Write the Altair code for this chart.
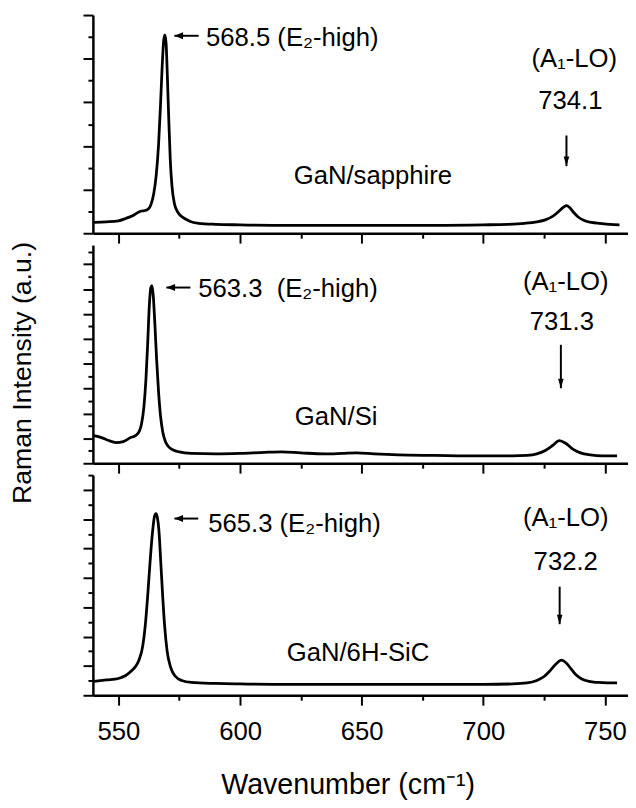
import altair as alt
import pandas as pd

# ---------------- data ----------------
# Panel 1: GaN/sapphire
x_sap = [540, 545, 550, 553, 556, 558, 559.5, 561, 562.5, 563.5, 564.5, 565.5, 566.5, 567.3, 568, 568.6,
         569.1, 569.6, 570.1, 570.7, 571.3, 572, 573, 574.5, 576.5, 579, 583, 590, 600, 620, 640, 660, 680,
         700, 710, 717, 722, 725.5, 728.5, 731, 733, 734.3, 735.5, 737, 739, 741.5, 744.5, 748, 752, 756]
y_sap = [11, 11.5, 12.5, 15, 18, 21, 22.5, 23, 25, 30, 40, 58, 90, 130, 170, 195,
         201, 192, 160, 115, 75, 48, 30, 21, 16, 12.5, 10, 9, 8.5, 8, 8, 8, 8,
         8.5, 9, 10, 11.5, 13.5, 17, 22, 26.5, 28, 26, 21.5, 16.5, 13, 11, 10, 9, 8.5]

# Panel 2: GaN/Si
x_si = [540, 543, 546, 549, 552, 555, 557, 558.5, 559.5, 560.5, 561.3, 562, 562.7, 563.3, 563.8, 564.3,
        565, 565.7, 566.5, 567.3, 568.2, 569.3, 570.5, 572.5, 575, 580, 590, 600, 610, 617, 625, 635, 642,
        648, 655, 665, 680, 700, 712, 718, 722, 725.5, 728.5, 731.3, 734, 737, 740, 744, 749, 755]
y_si = [28, 26, 23, 21, 22, 26, 28, 32, 40, 58, 85, 120, 160, 178, 180, 170,
        140, 105, 72, 48, 32, 22, 17, 13.5, 11.5, 10, 9.5, 10, 11, 11.5, 10.5, 9.5, 10,
        10.5, 9.5, 8.5, 8, 7.5, 7.5, 8, 9.5, 13, 18, 23, 20, 14, 10.5, 8.5, 7.5, 7.5]

# Panel 3: GaN/6H-SiC
x_sic = [540, 545, 550, 553, 555.5, 557, 558.5, 560, 561, 562, 563, 564, 564.8, 565.4, 566, 566.7,
         567.4, 568.2, 569, 570, 571.5, 573.5, 576, 580, 590, 600, 620, 650, 680, 700, 712, 718, 722,
         725, 727.5, 730, 732.2, 734, 736, 738, 740.5, 743.5, 747, 751, 755]
y_sic = [14, 15.5, 17, 20, 25, 29, 36, 50, 70, 100, 135, 165, 181, 184, 180, 165,
         135, 100, 70, 45, 28, 19, 15, 13, 12, 11.5, 11, 11, 11, 11, 11.5, 12.5, 15,
         19, 25, 32, 35.5, 33, 27, 21, 16.5, 14, 13, 12.5, 12.5]

# annotations
e2_labels = ["568.5 (E\u2082-high)", "563.3\u00a0 (E\u2082-high)", "565.3 (E\u2082-high)"]
e2_x = [586, 582.8, 586.9]
e2_y = [198, 176, 173]
a1_labels = ["(A\u2081-LO)", "(A\u2081-LO)", "(A\u2081-LO)"]
a1_x = [737.4, 733.9, 733.9]
a1_y = [176, 184, 179]
a1_values = ["734.1", "731.3", "732.2"]
a1v_x = [735.8, 732.3, 733.9]
a1v_y = [134, 143, 135]
sample_names = ["GaN/sapphire", "GaN/Si", "GaN/6H-SiC"]
sample_x = [654.6, 639.5, 648.5]
sample_y = [58, 47, 43]
larrow_tip = [573, 569.7, 573]
larrow_tail = [583, 579.6, 582.8]
larrow_y = [200, 178, 179]
darrow_x = [734.2, 731.9, 731.4]
darrow_top = [99, 120, 110]
darrow_tip = [68, 76, 72]

panel_heights = [221, 221, 223]
tick_steps = [22.1, 12.6, 14.85]

# ---------------- styling ----------------
FONT = "Liberation Sans"
XDOM = [539.5, 759.5]
W = 542
x_ticks = [550, 575, 600, 625, 650, 675, 700, 725, 750]

LEFT_HEAD = "M0,0 L2.2,-0.9 L2.2,0.9 Z"
DOWN_HEAD = "M0,0 L-0.7,-2.4 L0.7,-2.4 Z"


def make_panel(i, xs, ys, show_labels):
    H = panel_heights[i]
    step = tick_steps[i]
    n = int(H / step + 1e-6)
    yvals = [round(k * step, 3) for k in range(n + 1)]

    xaxis_kwargs = dict(
        values=x_ticks,
        tickSize={"condition": {"test": "datum.value % 50 === 0", "value": 10}, "value": 5},
        labels=show_labels,
        grid=False,
        domainColor="black", domainWidth=2.5, tickColor="black", tickWidth=2,
    )
    if show_labels:
        xaxis_kwargs.update(
            labelExpr="datum.value % 50 === 0 ? datum.label : ''",
            labelPadding=14,
            labelFont=FONT, labelFontSize=26, labelColor="black",
            title="Wavenumber (cm\u207b\u00b9)",
            titleFontSize=29,
            titleFont=FONT,
            titleColor="black",
            titleFontWeight="normal",
            titlePadding=27,
            titleX=258,
            titleAlign="center",
        )
    else:
        xaxis_kwargs.update(title=None)
    xaxis = alt.Axis(**xaxis_kwargs)

    yaxis_kwargs = dict(
        values=yvals,
        tickSize={"condition": {"test": "round(datum.value / %s) %% 2 === 0" % step, "value": 10}, "value": 5},
        labels=False,
        grid=False,
        domainColor="black", domainWidth=2.5, tickColor="black", tickWidth=2,
    )
    if i == 1:
        yaxis_kwargs.update(
            title="Raman Intensity (a.u.)",
            titleFontSize=27,
            titleFont=FONT,
            titleColor="black",
            titleFontWeight="normal",
            titleX=-71,
            titleY=129,
            titleAlign="center",
            titleBaseline="middle",
        )
    else:
        yaxis_kwargs.update(title=None)
    yaxis = alt.Axis(**yaxis_kwargs)

    xs_ = alt.Scale(domain=XDOM, nice=False, zero=False)
    ys_ = alt.Scale(domain=[0, H], nice=False, zero=False)

    def X(field="x"):
        return alt.X(f"{field}:Q", scale=xs_, axis=xaxis)

    def Y(field="y"):
        return alt.Y(f"{field}:Q", scale=ys_, axis=yaxis)

    curve = pd.DataFrame({"x": xs, "y": ys})
    line = alt.Chart(curve).mark_line(color="black", strokeWidth=2.8, interpolate="monotone").encode(
        x=X(), y=Y())

    left_txt = pd.DataFrame({"x": [e2_x[i]], "y": [e2_y[i]], "label": [e2_labels[i]]})
    center_txt = pd.DataFrame({
        "x": [a1_x[i], a1v_x[i], sample_x[i]],
        "y": [a1_y[i], a1v_y[i], sample_y[i]],
        "label": [a1_labels[i], a1_values[i], sample_names[i]],
    })
    t1 = alt.Chart(left_txt).mark_text(font=FONT, fontSize=26, align="left", baseline="middle",
                                       color="black").encode(x=X(), y=Y(), text="label:N")
    t2 = alt.Chart(center_txt).mark_text(font=FONT, fontSize=26, align="center", baseline="middle",
                                         color="black").encode(x=X(), y=Y(), text="label:N")

    la = pd.DataFrame({"x": [larrow_tip[i]], "x2": [larrow_tail[i]], "y": [larrow_y[i]]})
    la_rule = alt.Chart(la).mark_rule(color="black", strokeWidth=2).encode(x=X(), x2="x2:Q", y=Y())
    la_head = alt.Chart(la).mark_point(shape=LEFT_HEAD, filled=True, size=64, color="black",
                                       opacity=1).encode(x=X(), y=Y())

    da = pd.DataFrame({"x": [darrow_x[i]], "y": [darrow_tip[i]], "y2": [darrow_top[i]]})
    da_rule = alt.Chart(da).mark_rule(color="black", strokeWidth=2).encode(x=X(), y=Y(), y2="y2:Q")
    da_head = alt.Chart(da).mark_point(shape=DOWN_HEAD, filled=True, size=64, color="black",
                                       opacity=1).encode(x=X(), y=Y())

    return alt.layer(line, t1, t2, la_rule, la_head, da_rule, da_head).properties(width=W, height=H)


p1 = make_panel(0, x_sap, y_sap, False)
p2 = make_panel(1, x_si, y_si, False)
p3 = make_panel(2, x_sic, y_sic, True)

chart = alt.vconcat(p1, p2, p3, spacing=12, bounds="flush").properties(
    padding={"top": 1, "left": 0, "right": 0, "bottom": 0},
    background="white",
).configure_view(stroke=None)

chart.save("out.html", embed_options={"renderer": "svg", "actions": False})
